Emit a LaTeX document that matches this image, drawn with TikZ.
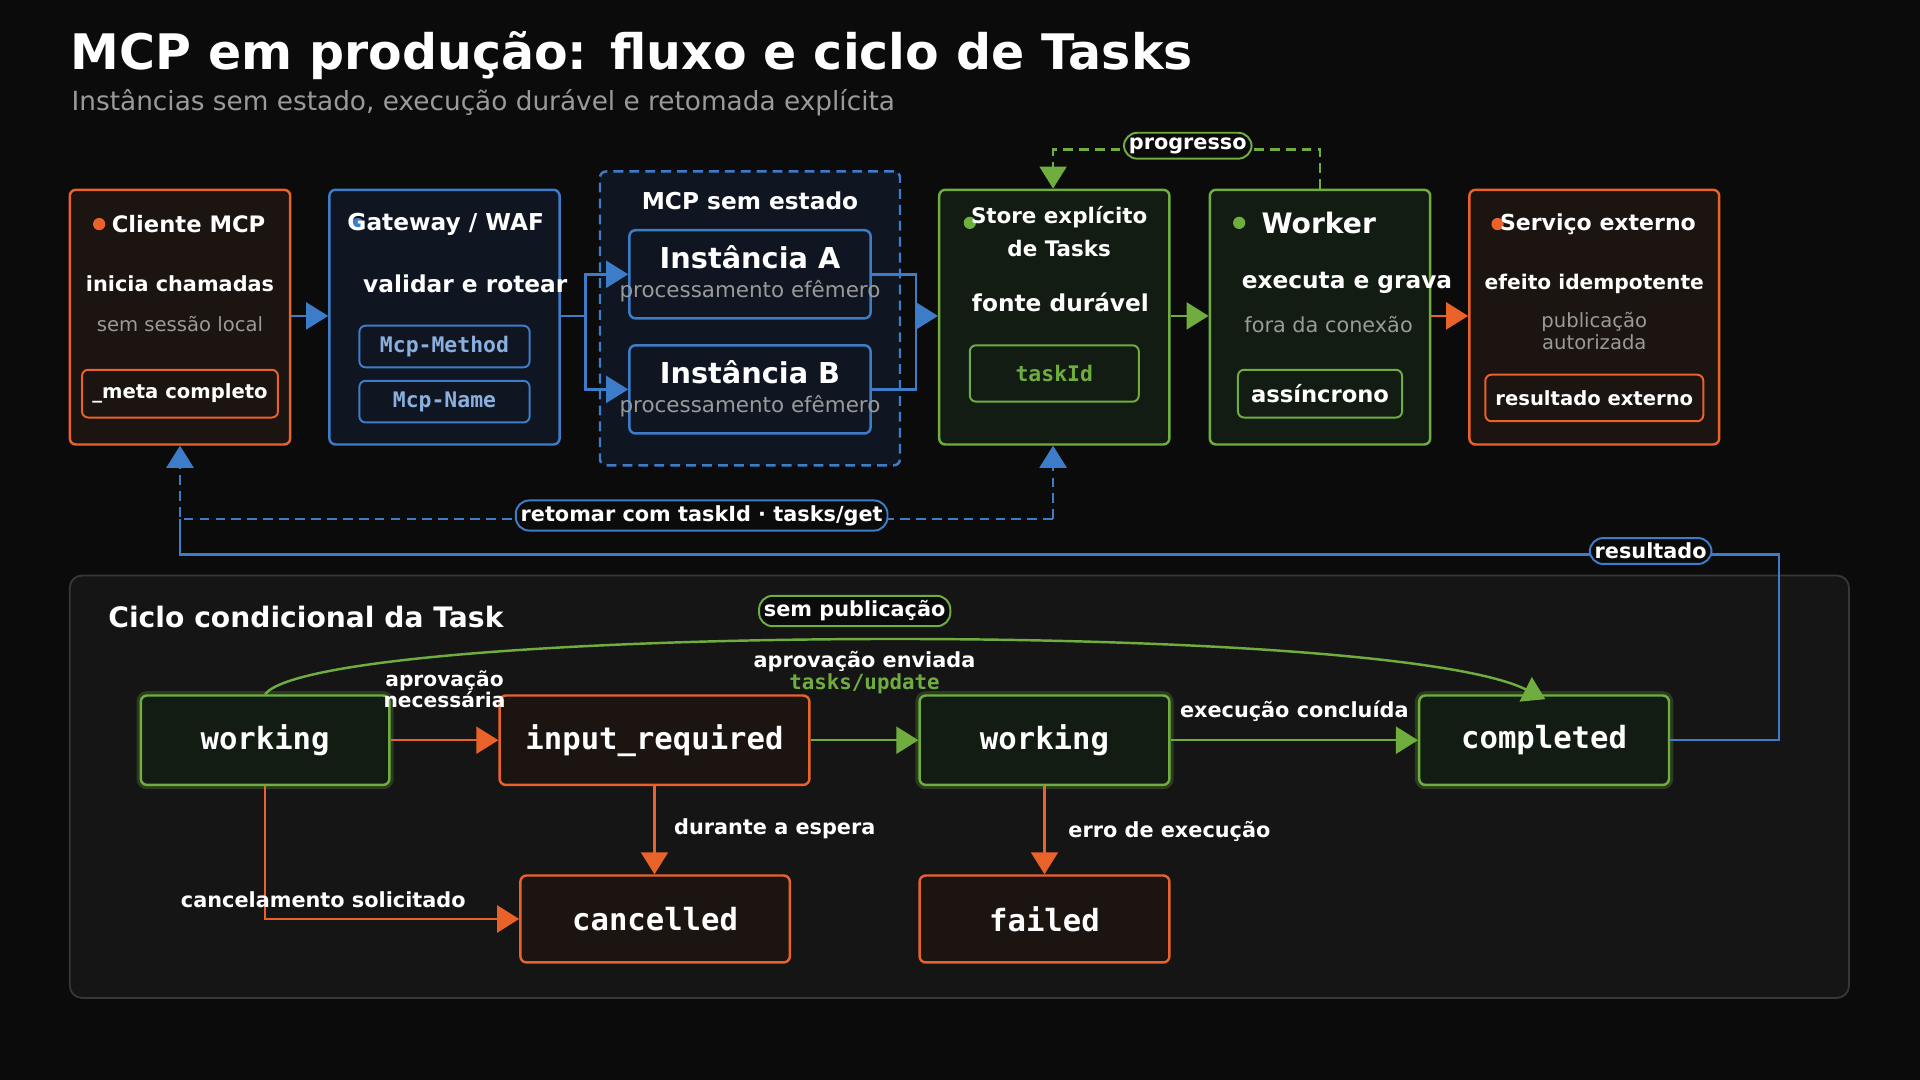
\documentclass[tikz,border=0pt]{standalone}
\usepackage{fontspec}
\setmainfont{DejaVu Sans}
\setmonofont{DejaVu Sans Mono}
\usetikzlibrary{arrows.meta,positioning}
\definecolor{bgc}{HTML}{0B0B0C}
\definecolor{orn}{HTML}{E8622A}
\definecolor{blu}{HTML}{3D7CC9}
\definecolor{grn}{HTML}{6FAE3E}
\definecolor{gtx}{HTML}{9A9A9A}
\definecolor{ofill}{HTML}{1C1410}
\definecolor{bfill}{HTML}{0F1622}
\definecolor{gfill}{HTML}{131C12}
\newcommand{\fs}[1]{\fontsize{#1}{#1}\selectfont}
\tikzset{
  box/.style={draw=#1, line width=2pt, rounded corners=5pt, inner sep=0pt},
  tag/.style={draw=#1, line width=1.6pt, rounded corners=5pt, inner sep=0pt, font=\bfseries\fs{16}, text=white},
  state/.style={draw=#1, line width=2pt, rounded corners=5pt, minimum height=73pt, font=\ttfamily\bfseries\fs{25}, text=white},
  glow/.style={preaction={draw=grn, draw opacity=0.25, line width=7pt}},
  pill/.style={draw=#1, fill=bgc, line width=1.6pt, rounded corners=11pt, inner sep=4pt, font=\bfseries\fs{17}, text=white},
  lbl/.style={text=white, font=\bfseries\fs{17}, align=center},
  gry/.style={text=gtx, align=center, font=\fs{16}},
  dsh/.style={dash pattern=on 8pt off 5pt},
  tip/.style={-{Triangle[length=18pt,width=22pt]}},
}
\begin{document}
\begin{tikzpicture}[x=1pt,y=-1pt]
\fill[bgc] (0,0) rectangle (1568,882);
\useasboundingbox (0,0) rectangle (1568,882);

% title
\node[anchor=west, text=white, font=\bfseries\fs{40}] (title) at (54,45) {MCP em produção: fluxo e ciclo de Tasks};
\node[anchor=west, text=gtx, font=\fs{21.5}] (subtitle) at (55,84) {Instâncias sem estado, execução durável e retomada explícita};

% top row boxes
\node[box=orn, fill=ofill, minimum width=180pt, minimum height=208pt] (cli) at (147,259) {};
\node[box=blu, fill=bfill, minimum width=188pt, minimum height=208pt] (gw) at (363,259) {};
\node[box=blu, dsh, fill=bfill, minimum width=245pt, minimum height=240pt] (mcp) at (612.5,260) {};
\node[box=blu, fill=bfill, minimum width=197pt, minimum height=72pt] (insta) at (612.5,224) {};
\node[box=blu, fill=bfill, minimum width=197pt, minimum height=72pt] (instb) at (612.5,318) {};
\node[box=grn, fill=gfill, minimum width=188pt, minimum height=208pt] (store) at (861,259) {};
\node[box=grn, fill=gfill, minimum width=180pt, minimum height=208pt] (worker) at (1078,259) {};
\node[box=orn, fill=ofill, minimum width=204pt, minimum height=208pt] (svc) at (1302,259) {};

% texts
\fill[orn] (81,183) circle (5pt);
\node[lbl, font=\bfseries\fs{18.5}] (clit) at (154,183) {Cliente MCP};
\node[lbl] (clia) at (147,232) {inicia chamadas};
\node[gry] (clib) at (147,265) {sem sessão local};
\node[tag=orn, minimum width=160pt, minimum height=39pt] (meta) at (147,321.5) {\_meta completo};

\fill[blu] (292,183) circle (5pt);
\node[lbl, font=\bfseries\fs{19}] (gwt) at (364,183) {Gateway / WAF};
\node[lbl, font=\bfseries\fs{19}] (gwa) at (380,232) {validar e rotear};
\node[tag=blu, fill=bfill, text=blu!60!white, font=\ttfamily\bfseries\fs{17.5}, minimum width=139pt, minimum height=34pt] (mth) at (363,283) {Mcp-Method};
\node[tag=blu, fill=bfill, text=blu!60!white, font=\ttfamily\bfseries\fs{17.5}, minimum width=139pt, minimum height=34pt] (mnm) at (363,328) {Mcp-Name};

\node[lbl, font=\bfseries\fs{19}] (mcpt) at (612.5,164) {MCP sem estado};
\node[lbl, font=\bfseries\fs{23.5}] (iat) at (612.5,210) {Instância A};
\node[gry, font=\fs{17.5}] (iab) at (612.5,238) {processamento efêmero};
\node[lbl, font=\bfseries\fs{23.5}] (ibt) at (612.5,304) {Instância B};
\node[gry, font=\fs{17.5}] (ibb) at (612.5,332) {processamento efêmero};

\fill[grn] (792,182) circle (5pt);
\node[lbl, font=\bfseries\fs{17.5}, align=center] (stt) at (865,189) {Store explícito\\[9pt]de Tasks};
\node[lbl, font=\bfseries\fs{19}] (sta) at (866,247) {fonte durável};
\node[tag=grn, fill=gfill, text=grn, font=\ttfamily\bfseries\fs{17.5}, minimum width=138pt, minimum height=46pt] (tid) at (861,305) {taskId};

\fill[grn] (1012,182) circle (5pt);
\node[lbl, font=\bfseries\fs{23}] (wkt) at (1077,182) {Worker};
\node[lbl, font=\bfseries\fs{19}] (wka) at (1100,231) {executa e grava};
\node[gry, font=\fs{17}] (wkb) at (1085,265) {fora da conexão};
\node[tag=grn, minimum width=134pt, minimum height=39pt, font=\bfseries\fs{18.5}] (asy) at (1078,321.5) {assíncrono};

\fill[orn] (1223,183) circle (5pt);
\node[lbl, font=\bfseries\fs{18}] (svt) at (1305,183) {Serviço externo};
\node[lbl, font=\bfseries\fs{16.5}] (sva) at (1302,232) {efeito idempotente};
\node[gry, font=\fs{16}] (svb) at (1302,270) {publicação\\[2pt]autorizada};
\node[tag=orn, minimum width=178pt, minimum height=38pt] (rex) at (1302,325) {resultado externo};

% top connectors
\draw[blu, line width=2pt, tip] (cli.east|-0,258) -- (gw.west|-0,258);
\coordinate (sp) at (478,258);
\draw[blu, line width=2pt] (gw.east|-0,258) -- (sp);
\draw[blu, line width=2pt, tip] (sp) |- (insta.west);
\draw[blu, line width=2pt, tip] (sp) |- (instb.west);
\coordinate (jn) at (748,258);
\draw[blu, line width=2pt] (insta.east) -| (jn);
\draw[blu, line width=2pt] (instb.east) -| (jn);
\draw[blu, line width=2pt, tip] (jn) -- (store.west|-jn);
\draw[grn, line width=2pt, tip] (store.east|-0,258) -- (worker.west|-0,258);
\draw[orn, line width=2pt, tip] (worker.east|-0,258) -- (svc.west|-0,258);

% progresso
\coordinate (pg) at (1078,122);
\draw[grn, line width=2pt, dsh, tip] (worker.north-|pg) -- (pg) -- (860,122) -- (store.north-|860,0);
\node[pill=grn] (prg) at (970,119) {progresso};

% retomar
\coordinate (rt) at (860,424);
\draw[blu, line width=2pt, dsh, tip] (rt) -- (store.south-|rt);
\draw[blu, line width=2pt, dsh, tip] (rt) -- (147,424) -- (cli.south);
\node[pill=blu] (ret) at (573,421) {retomar com taskId · tasks/get};

% bottom panel
\draw[draw=white!18!bgc, fill=white!4!bgc, line width=1.5pt, rounded corners=10pt] (57,470) rectangle (1510,815);
\node[anchor=west, text=white, font=\bfseries\fs{23}] (cyc) at (85,504) {Ciclo condicional da Task};

\node[state=grn, glow, fill=gfill, minimum width=203pt] (w1) at (216.5,604.5) {working};
\node[state=orn, fill=ofill, minimum width=253pt] (inr) at (534.5,604.5) {input\_required};
\node[state=grn, glow, fill=gfill, minimum width=204pt] (w2) at (853,604.5) {working};
\node[state=grn, glow, fill=gfill, minimum width=204pt] (cmp) at (1261,604.5) {completed};
\node[state=orn, fill=ofill, minimum width=220pt, minimum height=71pt] (can) at (535,750.5) {cancelled};
\node[state=orn, fill=ofill, minimum width=204pt, minimum height=71pt] (fal) at (853,750.5) {failed};

% resultado
\draw[blu, line width=2pt] (cmp.east) -- (1453,604.5) -- (1453,453) -- (147,453) -- (147,424);
\node[pill=blu] (res) at (1348,450) {resultado};

% state edges
\draw[orn, line width=2pt, tip] (w1) -- (inr);
\node[lbl, font=\bfseries\fs{16.5}] (apn) at (363,563) {aprovação\\[-1pt]necessária};
\draw[grn, line width=2pt, tip] (inr) -- (w2);
\node[lbl] (ape) at (706,540) {aprovação enviada};
\node[text=grn, font=\ttfamily\bfseries\fs{17}] (tup) at (706,558) {tasks/update};
\draw[grn, line width=2pt, tip] (w2) -- (cmp);
\node[lbl] (exc) at (1057,581) {execução concluída};
\draw[orn, line width=2pt, tip] (inr) -- (can.north-|inr);
\node[lbl, anchor=west] (dur) at (547,677) {durante a espera};
\draw[orn, line width=2pt, tip] (w1.south) |- (can.west);
\node[lbl] (cns) at (264,735) {cancelamento solicitado};
\draw[orn, line width=2pt, tip] (w2) -- (fal);
\node[lbl, anchor=west] (erx) at (869,679) {erro de execução};
\draw[grn, line width=2pt, tip] (w1.north) .. controls (260,510) and (1130,505) .. (1262,571);
\node[pill=grn] (sp2) at (698,499) {sem publicação};
\end{tikzpicture}
\end{document}
